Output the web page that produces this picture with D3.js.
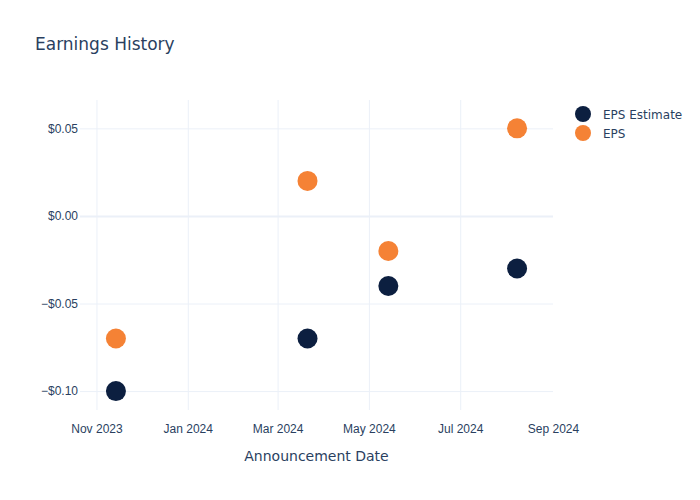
<!DOCTYPE html>
<html>
<head>
<meta charset="utf-8">
<script src="https://cdn.jsdelivr.net/npm/d3@7"></script>
<style>
  body { margin: 0; background: #fff; }
  svg { font-family: "DejaVu Sans", verdana, arial, sans-serif; }
</style>
</head>
<body>
<svg id="chart" width="700" height="500"></svg>
<script>
const dates = ["2023-11-14", "2024-03-21", "2024-05-14", "2024-08-08"];
const epsEstimate = [-0.10, -0.07, -0.04, -0.03];
const eps = [-0.07, 0.02, -0.02, 0.05];
const seriesNames = ["EPS Estimate", "EPS"];
const seriesColors = ["#0c1f40", "#f58235"];
const xTickDates = ["2023-11-01", "2024-01-01", "2024-03-01", "2024-05-01", "2024-07-01", "2024-09-01"];
const xTickLabels = ["Nov 2023", "Jan 2024", "Mar 2024", "May 2024", "Jul 2024", "Sep 2024"];
const yTicks = [-0.10, -0.05, 0.00, 0.05];
const yTickLabels = ["\u2212$0.10", "\u2212$0.05", "$0.00", "$0.05"];

const parse = d3.utcParse("%Y-%m-%d");
const svg = d3.select("#chart");
const pLeft = 80, pRight = 553, pTop = 100, pBottom = 410;

const x = d3.scaleUtc()
  .domain([parse("2023-10-21"), parse("2024-09-01")])
  .range([pLeft, pRight]);
const y = d3.scaleLinear()
  .domain([-0.1108, 0.0662])
  .range([pBottom, pTop]);

const txt = "#2a3f5f", grid = "#ebf0f8";

// grid
const xAxis = d3.axisBottom(x).tickValues(xTickDates.map(parse))
  .tickFormat((d, i) => xTickLabels[i]).tickSize(-(pBottom - pTop)).tickPadding(14);
const gx = svg.append("g").attr("transform", `translate(0,${pBottom})`).call(xAxis);
gx.select(".domain").remove();
gx.selectAll(".tick line").attr("stroke", (d, i) => i === xTickDates.length - 1 ? "none" : grid)
  .attr("stroke-width", 1);
gx.selectAll(".tick text").attr("fill", txt).attr("font-size", 12);

const yAxis = d3.axisLeft(y).tickValues(yTicks)
  .tickFormat((d, i) => yTickLabels[i]).tickSize(-(pRight - pLeft)).tickPadding(2);
const gy = svg.append("g").attr("transform", `translate(${pLeft},0)`).call(yAxis);
gy.select(".domain").remove();
gy.selectAll(".tick line").attr("stroke", grid)
  .attr("stroke-width", d => d === 0 ? 2 : 1);
gy.selectAll(".tick text").attr("fill", txt).attr("font-size", 12);

// points
const series = [epsEstimate, eps];
series.forEach((vals, si) => {
  svg.append("g").selectAll("circle")
    .data(vals.map((v, i) => ({ d: parse(dates[i]), v })))
    .join("circle")
    .attr("cx", p => x(p.d))
    .attr("cy", p => y(p.v))
    .attr("r", 10)
    .attr("fill", seriesColors[si]);
});

// title
svg.append("text").attr("x", 35).attr("y", 50)
  .attr("fill", txt).attr("font-size", 17).text("Earnings History");

// axis title
svg.append("text").attr("x", (pLeft + pRight) / 2).attr("y", 461)
  .attr("text-anchor", "middle").attr("fill", txt).attr("font-size", 14)
  .text("Announcement Date");

// legend
const lg = svg.append("g");
seriesNames.forEach((n, i) => {
  lg.append("circle").attr("cx", 583).attr("cy", 114 + i * 19).attr("r", 8)
    .attr("fill", seriesColors[i]);
  lg.append("text").attr("x", 603).attr("y", 114 + i * 19 + 4.5)
    .attr("fill", txt).attr("font-size", 12).text(n);
});
</script>
</body>
</html>
